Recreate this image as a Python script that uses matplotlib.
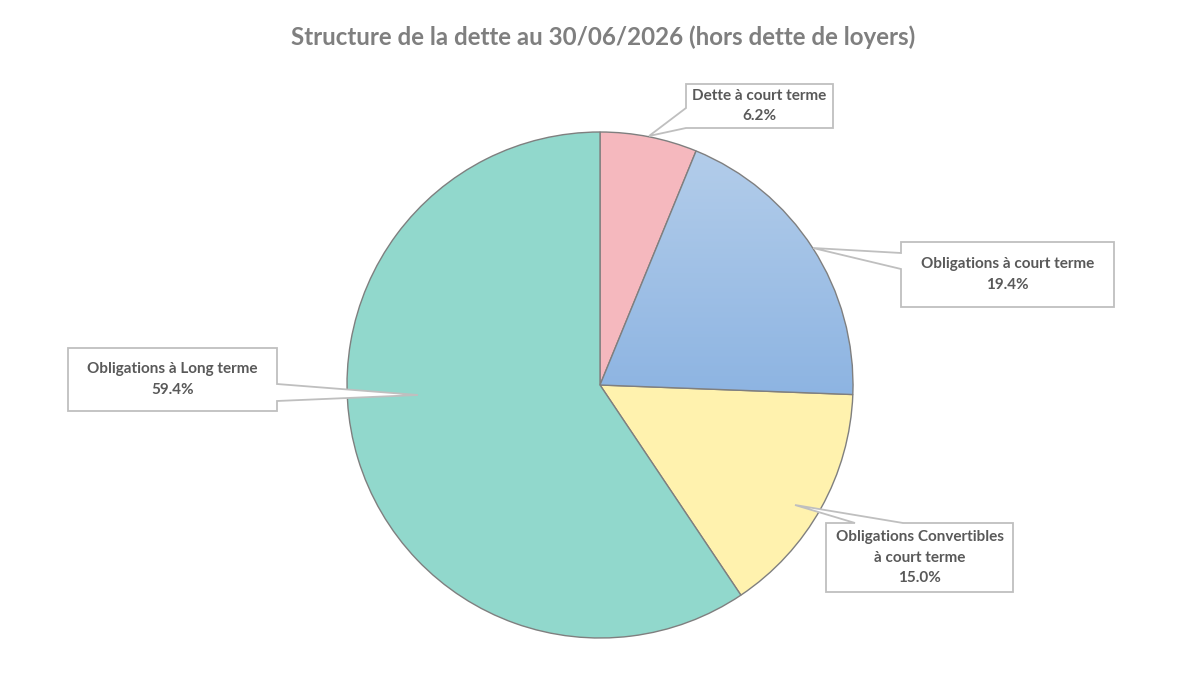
import matplotlib
matplotlib.use("Agg")
import matplotlib.pyplot as plt
import numpy as np
from matplotlib.patches import Polygon
from matplotlib.colors import LinearSegmentedColormap

# ---- data ----
categories = ["Dette à court terme", "Obligations à court terme",
              "Obligations Convertibles\nà court terme", "Obligations à Long terme"]
shares = [6.2, 19.4, 15.0, 59.4]
title = "Structure de la dette au 30/06/2026 (hors dette de loyers)"

colors = ["#F5B8BE", "#A4C1E6", "#FFF2AE", "#91D8CC"]
W, H = 1192, 673
FONT = ["Lato", "DejaVu Sans"]

fig = plt.figure(figsize=(W / 100, H / 100), dpi=100)
ax = fig.add_axes([0, 0, 1, 1])

cx, cy, R = 600, H - 385, 253
wedges, _ = ax.pie(shares, colors=colors, startangle=90, counterclock=False,
                   center=(cx, cy), radius=R,
                   wedgeprops=dict(edgecolor="#7F7F7F", linewidth=1.0))
ax.set_xlim(0, W)
ax.set_ylim(0, H)
ax.set_aspect("auto")
ax.axis("off")

# blue gradient fill for the second wedge
bw = wedges[1]
grad = np.linspace(0, 1, 256).reshape(-1, 1)
cmap = LinearSegmentedColormap.from_list("b", ["#8DB4E2", "#B3CDEA"])
ext_top = H - 150
ext_bot = H - 396
im = ax.imshow(grad, cmap=cmap, extent=(cx, cx + R + 2, ext_bot, ext_top),
               origin="lower", aspect="auto", zorder=bw.get_zorder() + 0.1)
im.set_clip_path(bw)
bw.set_facecolor("none")
bw.set_zorder(bw.get_zorder() + 0.2)

# ---- callouts (layout in pixel coords, y down) ----
def callout(box, side, a1, a2, tip, text):
    x0, y0, x1, y1 = box
    if side == "left":
        pts = [(x0, y0), (x1, y0), (x1, y1), (x0, y1), (x0, a2), tip, (x0, a1)]
    elif side == "right":
        pts = [(x0, y0), (x1, y0), (x1, a1), tip, (x1, a2), (x1, y1), (x0, y1)]
    elif side == "top":
        pts = [(x0, y0), (a1, y0), tip, (a2, y0), (x1, y0), (x1, y1), (x0, y1)]
    pts = [(x, H - y) for x, y in pts]
    ax.add_patch(Polygon(pts, closed=True, facecolor="white", edgecolor="#BFBFBF",
                         linewidth=1.3, zorder=5))
    ax.text((x0 + x1) / 2, H - (y0 + y1) / 2, text, ha="center", va="center",
            fontsize=11, fontweight="bold", color="#595959", family=FONT,
            linespacing=1.55, zorder=6)

labels = [f"{c}\n{v:.1f}%" for c, v in zip(categories, shares)]
callout((686, 84, 833, 128), "left", 108, 128, (649, 136), labels[0])
callout((901, 242, 1114, 307), "left", 253, 269, (813, 248), labels[1])
callout((826, 523, 1013, 592), "top", 855, 903, (795, 505), labels[2])
callout((68, 348, 277, 411), "right", 384, 401, (418, 395), labels[3])

fig.text(603 / W, 1 - 37 / H, title, ha="center", va="center", fontsize=17.4,
         fontweight="bold", color="#7F7F7F", family=FONT)

fig.savefig("out.png", dpi=100, facecolor="white")
